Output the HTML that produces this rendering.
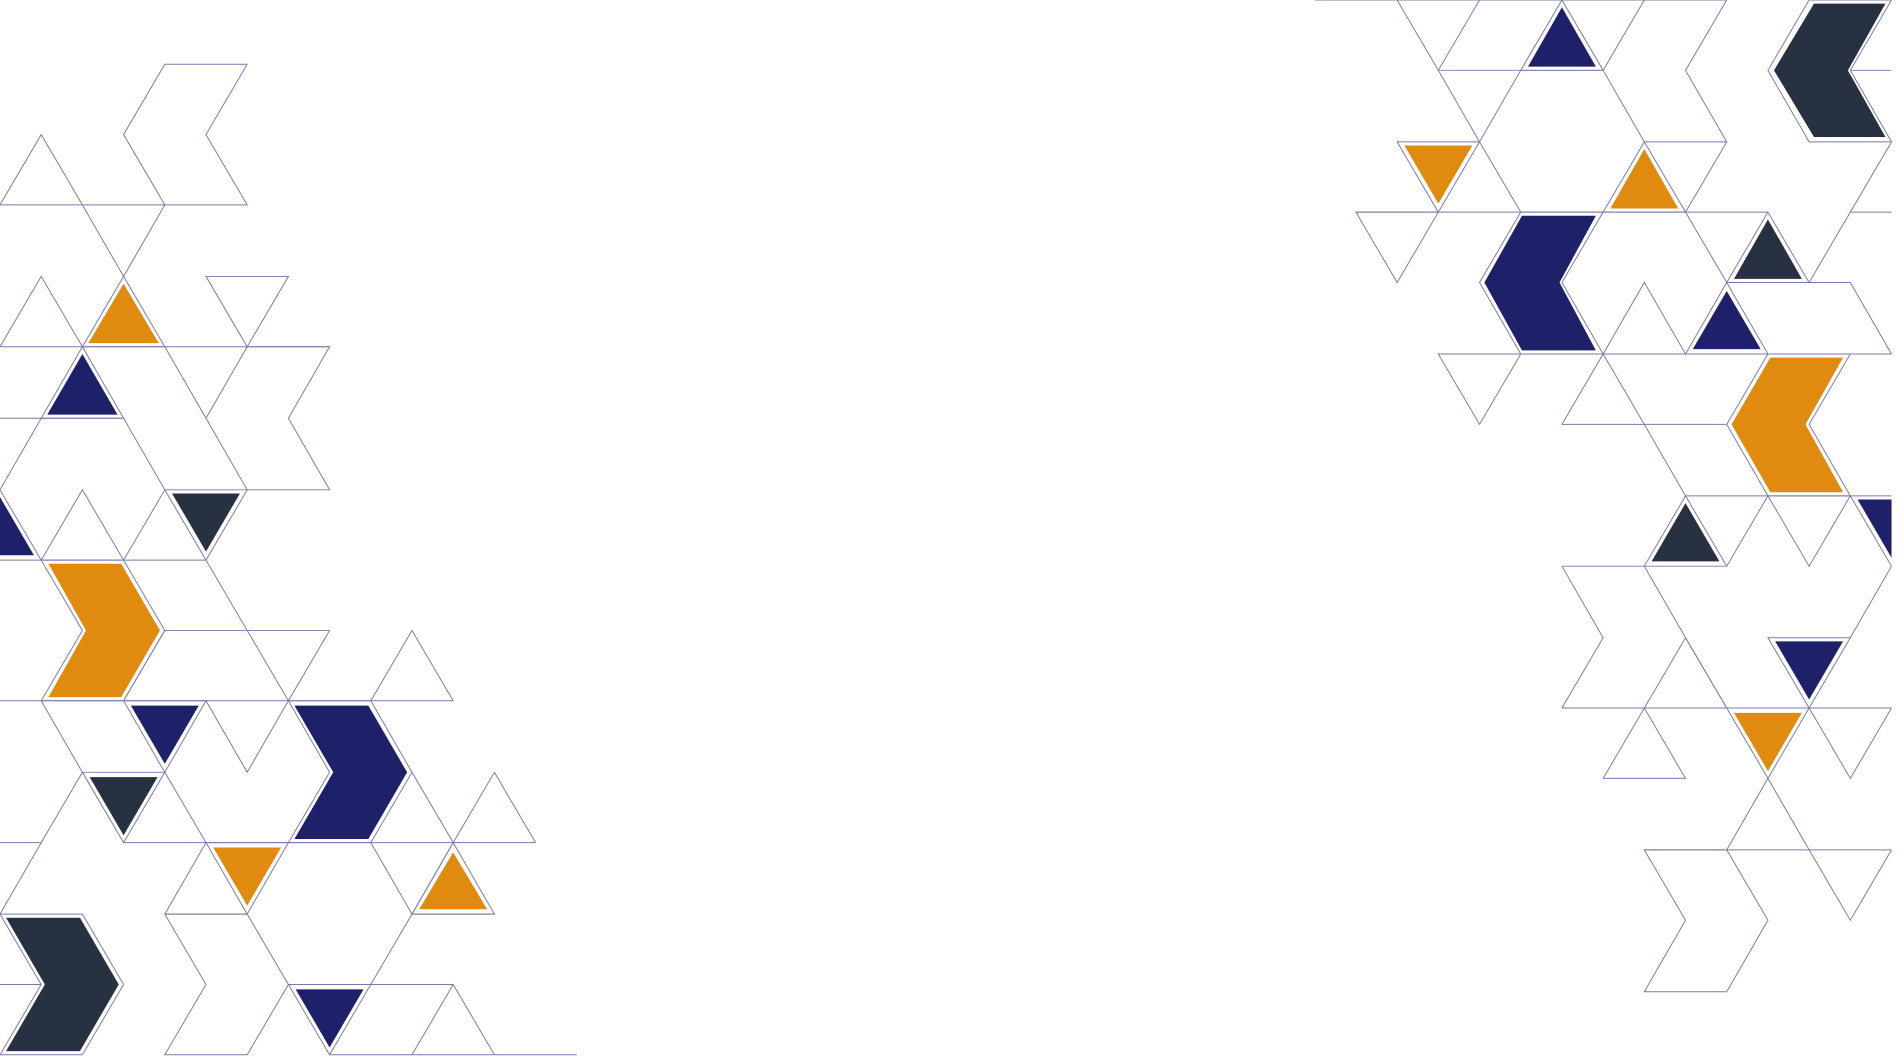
<!DOCTYPE html>
<html><head><meta charset="utf-8"><style>html,body{margin:0;padding:0;background:#fff;overflow:hidden}svg{display:block}</style></head><body>
<svg width="1900" height="1056" viewBox="0 0 1568 871" preserveAspectRatio="none" xmlns="http://www.w3.org/2000/svg">
<g fill="none" stroke="#7d78a8" stroke-width="0.8">
<polygon points="136,53 204,53 170,111 204,169 136,169 102,111"/>
<polyline points="0,169 34,111 68,169"/>
<line x1="0" y1="169" x2="136" y2="169"/>
<polyline points="68,169 102,228 136,169"/>
<polyline points="0,286 34,228 68,286"/>
<polygon points="102,228 68,286 136,286"/>
<polygon points="170,228 238,228 204,286"/>
<line x1="0" y1="286" x2="272" y2="286"/>
<polyline points="136,286 170,345 204,286"/>
<polyline points="204,286 272,286 238,345 272,404 204,404 170,345"/>
<polygon points="68,286 34,345 102,345"/>
<line x1="0" y1="345" x2="102" y2="345"/>
<polyline points="0,404 34,345"/>
<polyline points="102,345 136,404"/>
<polyline points="0,404 34,462"/>
<polyline points="34,462 68,404 102,462 136,404"/>
<polygon points="136,404 204,404 170,462"/>
<line x1="0" y1="462" x2="170" y2="462"/>
<polygon points="34,462 102,462 136,520 102,578 34,578 68,520"/>
<polyline points="170,462 204,520 272,520"/>
<polyline points="102,578 136,520 204,520 238,578 272,520"/>
<polyline points="306,578 340,520 374,578"/>
<line x1="0" y1="578" x2="374" y2="578"/>
<polygon points="102,578 170,578 136,637"/>
<polyline points="170,578 204,637 238,578"/>
<polygon points="238,578 306,578 340,637 306,695 238,695 272,637"/>
<polyline points="34,578 68,637"/>
<polygon points="68,637 136,637 102,695"/>
<polyline points="136,637 170,695"/>
<polyline points="0,754 34,695 68,637"/>
<line x1="0" y1="695" x2="34" y2="695"/>
<line x1="102" y1="695" x2="442" y2="695"/>
<polyline points="340,637 374,695 408,637 442,695"/>
<polyline points="306,695 340,754 374,695"/>
<polygon points="170,695 238,695 204,754"/>
<polygon points="374,695 340,754 408,754"/>
<polyline points="136,754 170,695"/>
<line x1="136" y1="754" x2="204" y2="754"/>
<line x1="340" y1="754" x2="408" y2="754"/>
<polygon points="0,754 68,754 102,812 68,870 0,870 34,812"/>
<line x1="0" y1="812" x2="34" y2="812"/>
<polygon points="136,754 204,754 238,812 204,870 136,870 170,812"/>
<polygon points="238,812 306,812 272,870"/>
<line x1="238" y1="812" x2="374" y2="812"/>
<polyline points="306,812 340,754"/>
<polyline points="340,870 374,812 408,870"/>
<line x1="272" y1="870" x2="476" y2="870"/>
<line x1="1085" y1="0" x2="1425" y2="0"/>
<polyline points="1153,0 1187,58 1221,0"/>
<polygon points="1289,0 1255,58 1323,58"/>
<polyline points="1323,58 1357,0 1425,0 1391,58 1425,117 1357,117"/>
<polygon points="1493,0 1561,0 1527,58 1561,117 1493,117 1459,58"/>
<line x1="1527" y1="58" x2="1561" y2="58"/>
<line x1="1187" y1="58" x2="1323" y2="58"/>
<polyline points="1187,58 1221,117 1255,58"/>
<polygon points="1153,117 1221,117 1187,175"/>
<polyline points="1221,117 1255,175"/>
<polygon points="1357,117 1323,175 1391,175"/>
<polyline points="1323,58 1357,117"/>
<polyline points="1425,117 1391,175"/>
<polygon points="1119,175 1187,175 1153,233"/>
<line x1="1119" y1="175" x2="1459" y2="175"/>
<line x1="1527" y1="175" x2="1561" y2="175"/>
<polyline points="1561,117 1527,175 1493,233"/>
<polygon points="1255,175 1323,175 1289,233 1323,292 1255,292 1221,233"/>
<polygon points="1459,175 1425,233 1493,233"/>
<polyline points="1391,175 1425,233"/>
<polyline points="1323,292 1357,233 1391,292"/>
<polygon points="1425,233 1391,292 1459,292"/>
<polyline points="1459,233 1527,233 1561,292"/>
<polygon points="1187,292 1255,292 1221,350"/>
<line x1="1187" y1="292" x2="1561" y2="292"/>
<polyline points="1289,350 1323,292 1357,350"/>
<line x1="1289" y1="350" x2="1425" y2="350"/>
<polygon points="1459,292 1527,292 1493,350 1527,409 1459,409 1425,350"/>
<polyline points="1357,350 1391,409"/>
<line x1="1391" y1="409" x2="1561" y2="409"/>
<polygon points="1391,409 1357,467 1425,467"/>
<polyline points="1425,467 1459,409 1493,467 1527,409 1561,467"/>
<polyline points="1289,467 1357,467 1391,526 1425,584"/>
<polyline points="1289,467 1323,526 1289,584"/>
<polygon points="1459,526 1527,526 1493,584"/>
<polyline points="1527,526 1561,467"/>
<polyline points="1357,584 1391,526 1425,584"/>
<line x1="1289" y1="584" x2="1561" y2="584"/>
<polyline points="1323,642 1357,584 1391,642 1323,642"/>
<polygon points="1425,584 1493,584 1459,642"/>
<polyline points="1493,584 1527,642 1561,584"/>
<polyline points="1425,701 1459,642 1493,701 1527,759 1561,701"/>
<line x1="1357" y1="701" x2="1561" y2="701"/>
<polygon points="1357,701 1425,701 1459,759 1425,818 1357,818 1391,759"/>
</g>
<g stroke="none">
<polygon fill="#E08A10" points="102,234 73,283 131,283"/>
<polygon fill="#1E2169" points="68,292 39,342 97,342"/>
<polygon fill="#1E2169" points="0,410 28,458 0,458"/>
<polygon fill="#283142" points="142,407 198,407 170,455"/>
<polygon fill="#E08A10" points="40,465 100,465 132,520 100,575 40,575 71,520"/>
<polygon fill="#1E2169" points="108,582 164,582 136,630"/>
<polygon fill="#1E2169" points="243,582 304,582 336,637 304,692 243,692 275,637"/>
<polygon fill="#283142" points="74,641 130,641 102,689"/>
<polygon fill="#E08A10" points="176,699 232,699 204,747"/>
<polygon fill="#E08A10" points="374,703 346,750 402,750"/>
<polygon fill="#283142" points="5,757 66,757 98,812 66,867 5,867 37,812"/>
<polygon fill="#1E2169" points="244,816 300,816 272,864"/>
<polygon fill="#1E2169" points="1289,6 1261,55 1317,55"/>
<polygon fill="#283142" points="1497,3 1556,3 1525,58 1556,113 1497,113 1464,58"/>
<polygon fill="#E08A10" points="1159,120 1215,120 1187,168"/>
<polygon fill="#E08A10" points="1357,123 1329,172 1385,172"/>
<polygon fill="#1E2169" points="1256,178 1317,178 1287,233 1317,289 1256,289 1225,233"/>
<polygon fill="#283142" points="1459,181 1431,230 1487,230"/>
<polygon fill="#1E2169" points="1425,240 1397,288 1453,288"/>
<polygon fill="#E08A10" points="1461,295 1521,295 1490,350 1521,406 1461,406 1429,350"/>
<polygon fill="#283142" points="1391,415 1363,463 1419,463"/>
<polygon fill="#1E2169" points="1533,412 1561,412 1561,460"/>
<polygon fill="#1E2169" points="1465,529 1521,529 1493,577"/>
<polygon fill="#E08A10" points="1431,588 1487,588 1459,636"/>
</g>
</svg>
</body></html>
